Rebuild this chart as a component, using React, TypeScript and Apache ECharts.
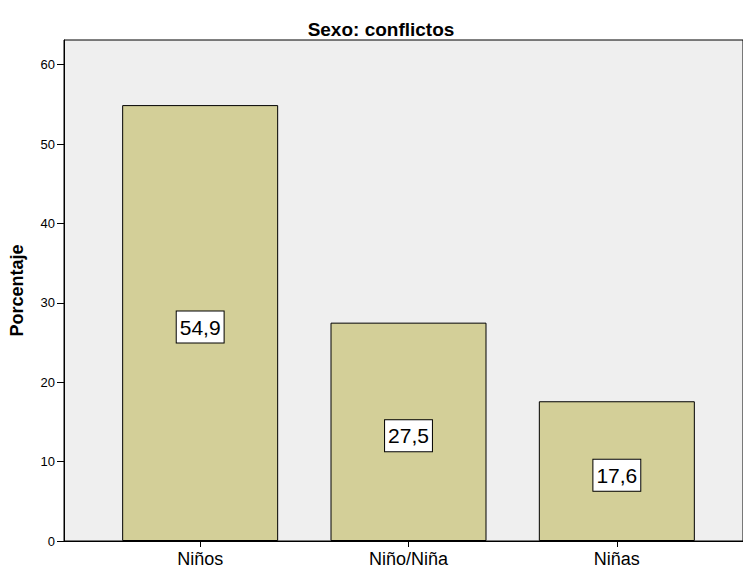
import React, { useEffect, useRef } from "react";
import * as echarts from "echarts";

const categories = ["Niños", "Niño/Niña", "Niñas"];
const values = [54.9, 27.5, 17.6];
const yTicks = [0, 10, 20, 30, 40, 50, 60];
const yMax = 63.1;

const FONT = "Arial, 'Liberation Sans', sans-serif";

export default function App() {
  const ref = useRef<HTMLDivElement>(null);
  useEffect(() => {
    if (!ref.current) return;
    const chart = echarts.init(ref.current, undefined, { renderer: "svg" });
    chart.setOption({
      animation: false,
      backgroundColor: "#ffffff",
      title: {
        text: "Sexo: conflictos",
        left: 376,
        textAlign: "center",
        top: 15,
        textStyle: { fontFamily: FONT, fontSize: 19, fontWeight: "bold", color: "#000" },
      },
      grid: [
        { left: 61.5, right: -2, top: 40, bottom: 34, show: true, backgroundColor: "#efefef", borderColor: "#000", borderWidth: 1 },
        { left: 96, right: 22, top: 40, bottom: 34 },
      ],
      xAxis: [
        { type: "value", gridIndex: 0, min: 0, max: 1, show: true, axisLine: { show: true, lineStyle: { color: "#000" } }, axisTick: { show: false }, axisLabel: { show: false }, splitLine: { show: false } },
        {
          type: "category",
          gridIndex: 1,
          data: categories,
          axisLine: { show: false },
          axisTick: { show: true, alignWithLabel: true, length: 6, lineStyle: { color: "#000" } },
          axisLabel: { fontFamily: FONT, fontSize: 18, color: "#000", margin: 9 },
        },
      ],
      yAxis: [
        {
          type: "value",
          gridIndex: 0,
          min: 0,
          max: yMax,
          interval: 10,
          name: "Porcentaje",
          nameLocation: "middle",
          nameGap: 38,
          nameTextStyle: { fontFamily: FONT, fontSize: 18, fontWeight: "bold", color: "#000" },
          axisLine: { show: true, lineStyle: { color: "#000" } },
          axisTick: { show: true, length: 7, customValues: yTicks, lineStyle: { color: "#000" } },
          axisLabel: {
            fontFamily: FONT,
            fontSize: 13,
            color: "#000",
            margin: 9,
            customValues: yTicks,
          },
          splitLine: { show: false },
        },
        { type: "value", gridIndex: 1, min: 0, max: yMax, show: false },
      ],
      series: [
        {
          type: "bar",
          xAxisIndex: 1,
          yAxisIndex: 1,
          data: values,
          barWidth: 156,
          itemStyle: { color: "#d3cf98", borderColor: "#000", borderWidth: 1 },
          label: {
            show: true,
            position: "inside",
            offset: [0, 4],
            formatter: (p: any) => String(p.value).replace(".", ","),
            fontFamily: FONT,
            fontSize: 21,
            color: "#000",
            backgroundColor: "#fff",
            borderColor: "#000",
            borderWidth: 1,
            padding: [6, 3, 4, 3],
          },
        },
      ],
    });
    return () => chart.dispose();
  }, []);
  return <div ref={ref} style={{ width: 743, height: 575, position: "absolute", left: 0, top: 0 }} />;
}
